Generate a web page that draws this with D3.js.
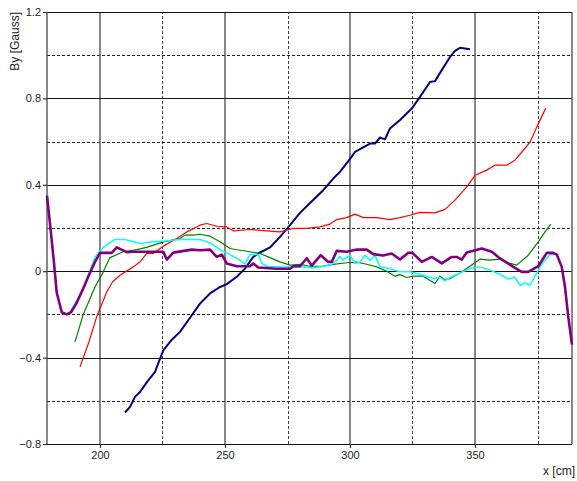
<!DOCTYPE html>
<html>
<head>
<meta charset="utf-8">
<script src="https://cdn.jsdelivr.net/npm/d3@7"></script>
<style>
  html, body { margin: 0; padding: 0; background: #fff; }
  svg { display: block; font-family: Arial, "Liberation Sans", sans-serif; }
</style>
</head>
<body>
<svg id="chart" width="577" height="481"></svg>
<script>
// Field component By along the x axis, one trace per measurement run.
const xDomain = [178.8, 388.8];
const yDomain = [-0.8, 1.2];
const xTickValues = [200, 250, 300, 350];
const xMinorGrid = [225, 275, 325, 375];
const yTickValues = [-0.8, -0.4, 0, 0.4, 0.8, 1.2];
const yMinorGrid = [-0.6, -0.2, 0.2, 0.6, 1.0];

const blueRun = [
  [210, -0.654], [212, -0.628], [214, -0.582], [216, -0.559], [219, -0.51], [222, -0.466],
  [225.3, -0.366], [228.5, -0.32], [232, -0.281], [235.3, -0.227], [240, -0.15], [244, -0.103],
  [248, -0.073], [250.7, -0.06], [254.7, -0.026], [258, 0.012], [261.3, 0.066], [263.3, 0.082],
  [268, 0.11], [272, 0.159], [276, 0.213], [280, 0.27], [284, 0.316], [289.3, 0.375],
  [293.3, 0.429], [296, 0.46], [300, 0.52], [302, 0.552], [305.3, 0.573], [308, 0.591],
  [310, 0.591], [312, 0.619], [314, 0.61], [316, 0.661], [320, 0.70], [324.7, 0.753],
  [328, 0.807], [332, 0.876], [334, 0.88], [336.7, 0.931], [340, 0.992], [342, 1.02],
  [344, 1.034], [348, 1.028]
];

const redRun = [
  [192, -0.443], [195.5, -0.33], [198.7, -0.21], [202.7, -0.096], [205, -0.05], [208, -0.019],
  [213.3, 0.02], [216, 0.043], [218.7, 0.082], [221.3, 0.082], [225.3, 0.116], [230.7, 0.151],
  [234.7, 0.182], [238.7, 0.205], [240, 0.213], [242.7, 0.221], [246.7, 0.208], [250.7, 0.205],
  [253.3, 0.187], [260, 0.193], [266.7, 0.187], [272, 0.182], [277.3, 0.198], [282.7, 0.198],
  [288, 0.205], [292, 0.218], [294.7, 0.239], [298.7, 0.248], [302, 0.264], [305.3, 0.248],
  [310.7, 0.248], [316, 0.239], [320, 0.248], [324, 0.259], [328, 0.272], [334, 0.27],
  [338, 0.286], [342, 0.329], [346.7, 0.39], [350, 0.444], [354.7, 0.468], [358, 0.491],
  [362.7, 0.491], [366, 0.514], [372, 0.597], [374.7, 0.667], [378.3, 0.755]
];

const greenRun = [
  [190, -0.327], [193.3, -0.20], [198, -0.073], [201.3, -0.003], [204, 0.063], [209.3, 0.09],
  [214.7, 0.10], [218.7, 0.11], [225.3, 0.136], [232, 0.151], [234, 0.167], [237.3, 0.167],
  [240, 0.171], [244, 0.162], [248, 0.136], [252, 0.105], [256, 0.097], [260, 0.09],
  [264, 0.082], [268, 0.063], [272, 0.043], [276, 0.028], [280, 0.032], [284, 0.023],
  [289.3, 0.023], [293.3, 0.032], [298.7, 0.039], [302.7, 0.042], [306.7, 0.032], [310.7, 0.02],
  [314.7, 0.0], [318, -0.023], [320, -0.016], [322.7, -0.029], [325.3, -0.023], [329.3, -0.023],
  [334, -0.057], [336, -0.023], [338, -0.039], [340, -0.034], [344, -0.008], [348, 0.023],
  [352, 0.056], [356, 0.051], [360, 0.056], [364, 0.036], [366.7, 0.028], [371.3, 0.074],
  [375.3, 0.136], [378, 0.182], [380.3, 0.218]
];

const cyanRun = [
  [188, -0.19], [191, -0.13], [194, -0.065], [196, 0.0], [198, 0.066], [201.3, 0.11],
  [206, 0.147], [210, 0.147], [216, 0.128], [221.3, 0.136], [226, 0.14], [232, 0.147],
  [240, 0.147], [244, 0.131], [248, 0.10], [252, 0.077], [256, 0.051], [258, 0.032],
  [260, 0.077], [263.3, 0.077], [264.7, 0.036], [266.7, 0.023], [273.3, 0.02], [280, 0.02],
  [285.3, 0.015], [289.3, 0.023], [292.7, 0.032], [294.7, 0.051], [296, 0.069], [297.3, 0.051],
  [300, 0.074], [302, 0.036], [304, 0.043], [306, 0.074], [308, 0.051], [310, 0.074],
  [312, 0.02], [316, 0.011], [320, -0.003], [324, -0.003], [328, -0.014], [333.3, -0.034],
  [336, -0.029], [338, -0.045], [340, -0.029], [344, -0.008], [348, 0.012], [352, 0.02],
  [356, 0.005], [360, -0.015], [363.3, -0.036], [366, -0.029], [368, -0.065], [370, -0.054],
  [372, -0.065], [374.7, -0.008], [377.3, 0.043], [380, 0.077], [382, 0.077]
];

const purpleRun = [
  [178.8, 0.35], [180, 0.22], [181.5, 0.05], [182.7, -0.10], [184.7, -0.19], [186.7, -0.20],
  [188.4, -0.19], [190.5, -0.15], [193.3, -0.08], [195.5, -0.02], [198, 0.043], [200, 0.085],
  [204.7, 0.085], [206.7, 0.11], [210.7, 0.088], [213.3, 0.09], [220, 0.09], [225.3, 0.09],
  [226.7, 0.054], [229.3, 0.086], [236.7, 0.10], [240, 0.097], [244, 0.10], [246.7, 0.066],
  [248.7, 0.077], [250.7, 0.036], [254.7, 0.023], [260, 0.023], [261.3, 0.036], [263.3, 0.017],
  [270.7, 0.011], [276, 0.011], [277.3, 0.023], [280, 0.023], [282.7, 0.06], [284.7, 0.026],
  [288.3, 0.074], [291.3, 0.043], [292.7, 0.043], [294.7, 0.094], [298.7, 0.09], [302.7, 0.10],
  [306.7, 0.10], [309.3, 0.079], [313.3, 0.073], [316.7, 0.082], [320, 0.054], [323.3, 0.085],
  [325, 0.085], [328.7, 0.043], [332.7, 0.066], [336.7, 0.036], [340.7, 0.066], [342.7, 0.066],
  [344.7, 0.054], [346.7, 0.087], [352.7, 0.105], [356.7, 0.09], [360, 0.059], [365.3, 0.02],
  [368.7, -0.003], [371.3, -0.003], [375.3, 0.023], [378.7, 0.085], [381.3, 0.085], [382.7, 0.077],
  [384.7, 0.02], [386, -0.073], [387.3, -0.21], [388.8, -0.34]
];

const seriesList = [
  { data: blueRun,   color: "#000080", width: 2 },
  { data: redRun,    color: "#ff0000", width: 1.2 },
  { data: greenRun,  color: "#008000", width: 1.2 },
  { data: cyanRun,   color: "#00ffff", width: 1.5 },
  { data: purpleRun, color: "#800080", width: 2.6 }
];

const margin = { left: 47, right: 5, top: 12, bottom: 37 };
const W = 577, H = 481;
const svg = d3.select("#chart");

const x = d3.scaleLinear().domain(xDomain).range([margin.left, W - margin.right]);
const y = d3.scaleLinear().domain(yDomain).range([H - margin.bottom, margin.top]);

const gridColor = "#333";
const grid = svg.append("g");

// dashed minor grid
grid.selectAll(".vminor").data(xMinorGrid).join("line")
  .attr("x1", d => Math.round(x(d)) + 0.5).attr("x2", d => Math.round(x(d)) + 0.5)
  .attr("y1", y(yDomain[0])).attr("y2", y(yDomain[1]))
  .attr("stroke", "#444").attr("stroke-width", 1).attr("stroke-dasharray", "3,2");
grid.selectAll(".hminor").data(yMinorGrid).join("line")
  .attr("x1", x(xDomain[0])).attr("x2", x(xDomain[1]))
  .attr("y1", d => Math.round(y(d)) + 0.5).attr("y2", d => Math.round(y(d)) + 0.5)
  .attr("stroke", "#222").attr("stroke-width", 1).attr("stroke-dasharray", "3,2");

// solid major grid
grid.selectAll(".vmajor").data(xTickValues).join("line")
  .attr("x1", d => x(d)).attr("x2", d => x(d))
  .attr("y1", y(yDomain[0])).attr("y2", y(yDomain[1]))
  .attr("stroke", "#555").attr("stroke-width", 1.4);
grid.selectAll(".hmajor").data(yTickValues).join("line")
  .attr("x1", x(xDomain[0])).attr("x2", x(xDomain[1]))
  .attr("y1", d => Math.round(y(d)) + 0.5).attr("y2", d => Math.round(y(d)) + 0.5)
  .attr("stroke", "#111").attr("stroke-width", 1);

// frame sides
grid.selectAll(".frame").data(xDomain).join("line")
  .attr("x1", d => x(d)).attr("x2", d => x(d))
  .attr("y1", y(yDomain[0])).attr("y2", y(yDomain[1]))
  .attr("stroke", "#555").attr("stroke-width", 1.4);

// series
const line = d3.line().x(d => x(d[0])).y(d => y(d[1]));
svg.append("g").selectAll("path").data(seriesList).join("path")
  .attr("d", d => line(d.data))
  .attr("fill", "none")
  .attr("stroke", d => d.color)
  .attr("stroke-width", d => d.width)
  .attr("stroke-linejoin", "round");

// axes
const yAxis = d3.axisLeft(y).tickValues(yTickValues).tickSize(4).tickPadding(2)
  .tickFormat(d => d === 0 ? "0" : d3.format(".1f")(d));
const gy = svg.append("g").attr("transform", `translate(${margin.left},0)`).call(yAxis);
const xAxis = d3.axisBottom(x).tickValues(xTickValues).tickSize(4).tickPadding(3)
  .tickFormat(d3.format("d"));
const gx = svg.append("g").attr("transform", `translate(0,${H - margin.bottom})`).call(xAxis);

[gx, gy].forEach(g => {
  g.select(".domain").remove();
  g.selectAll(".tick line").attr("stroke", "#333").attr("stroke-width", 1.2);
  g.selectAll(".tick text").attr("fill", "#222").style("font-size", "11px")
    .style("font-family", "Arial, 'Liberation Sans', sans-serif");
});

// axis titles
svg.append("text")
  .attr("transform", `translate(19,${margin.top}) rotate(-90)`)
  .attr("text-anchor", "end")
  .attr("fill", "#222")
  .style("font-size", "12px")
  .text("By [Gauss]");

svg.append("text")
  .attr("x", 575).attr("y", 475)
  .attr("text-anchor", "end")
  .attr("fill", "#222")
  .style("font-size", "12px")
  .text("x [cm]");
</script>
</body>
</html>
